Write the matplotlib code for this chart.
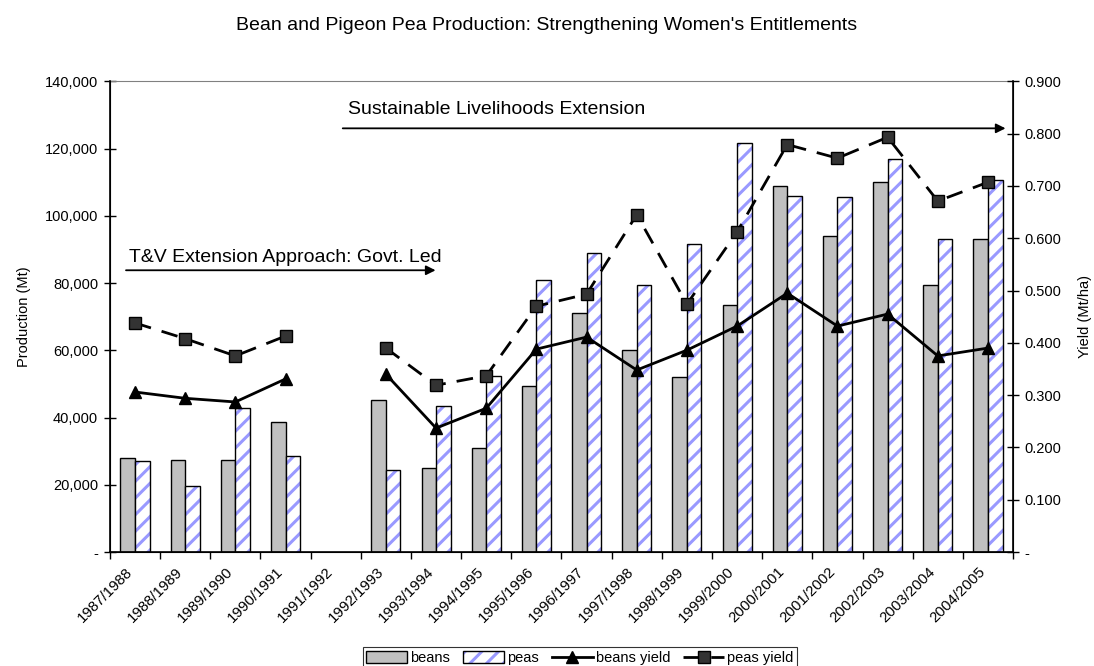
import numpy as np
import matplotlib
matplotlib.use('Agg')
import matplotlib.pyplot as plt
from matplotlib.patches import Patch
from matplotlib.lines import Line2D
from matplotlib.legend_handler import HandlerTuple
from matplotlib.ticker import FuncFormatter, MultipleLocator
from matplotlib.transforms import ScaledTranslation

plt.rcParams['font.family'] = ['Liberation Sans', 'DejaVu Sans']
plt.rcParams['hatch.linewidth'] = 2.2

seasons = ['1987/1988', '1988/1989', '1989/1990', '1990/1991', '1991/1992',
           '1992/1993', '1993/1994', '1994/1995', '1995/1996', '1996/1997',
           '1997/1998', '1998/1999', '1999/2000', '2000/2001', '2001/2002',
           '2002/2003', '2003/2004', '2004/2005']
beans = [28000, 27400, 27500, 38700, np.nan, 45200, 25000, 31000, 49500, 71000,
         60000, 52000, 73500, 109000, 94000, 110000, 79500, 93000]
peas = [27100, 19600, 42800, 28700, np.nan, 24300, 43500, 52500, 81000, 89000,
        79500, 91500, 121500, 106000, 105500, 117000, 93000, 110500]
beans_yield = [0.306, 0.294, 0.287, 0.331, np.nan, 0.340, 0.237, 0.275, 0.388, 0.411,
               0.348, 0.386, 0.432, 0.495, 0.432, 0.455, 0.375, 0.390]
peas_yield = [0.438, 0.408, 0.375, 0.413, np.nan, 0.390, 0.319, 0.337, 0.470, 0.493,
              0.645, 0.474, 0.612, 0.779, 0.753, 0.793, 0.671, 0.707]

tv_label = 'T&V Extension Approach: Govt. Led'
tv_span = (-0.18, 5.99)
tv_y = 83800
sl_label = 'Sustainable Livelihoods Extension'
sl_span = (4.14, 17.35)
sl_y = 126000

x = np.arange(len(seasons))
w = 0.29
blue = '#9999FF'
dash = (6, 4)

fig = plt.figure(figsize=(10.94, 6.66), dpi=100)
ax = fig.add_axes([0.1005, 0.171, 0.8255, 0.707])

ax.bar(x - w/2, beans, w, color='#C0C0C0', edgecolor='black', linewidth=1.0, zorder=2)
ax.bar(x + w/2, peas, w, color='white', edgecolor=blue, hatch='//', linewidth=0, zorder=2)
ax.bar(x + w/2, peas, w, fill=False, edgecolor='black', linewidth=1.0, zorder=3)

ax.set_xlim(-0.5, len(seasons) - 0.5)
ax.set_ylim(0, 140000)
ax.yaxis.set_major_locator(MultipleLocator(20000))
ax.yaxis.set_major_formatter(FuncFormatter(lambda v, p: '-' if v == 0 else f'{v:,.0f}'))
ax.set_ylabel('Production (Mt)', fontsize=10.5, labelpad=10)

ax.set_xticks(np.arange(len(seasons) + 1) - 0.5)
ax.set_xticklabels([])
ax.set_xticks(x, minor=True)
ax.set_xticklabels(seasons, minor=True, rotation=45, ha='right', va='top',
                   rotation_mode='anchor', fontsize=10.8)
ax.tick_params(axis='x', which='major', direction='out', length=5, width=1)
ax.tick_params(axis='x', which='minor', length=0, pad=9)
ax.tick_params(axis='y', direction='inout', length=9, width=1, labelsize=10.5, pad=4)
offset = ScaledTranslation(-7/72, 0, fig.dpi_scale_trans)
for lab in ax.get_xticklabels(minor=True):
    lab.set_transform(lab.get_transform() + offset)

for s in ['left', 'bottom']:
    ax.spines[s].set_linewidth(1.2)
ax.spines['top'].set_color('#808080')
ax.spines['top'].set_linewidth(0.8)

ax2 = ax.twinx()
ax2.plot(x, beans_yield, color='black', lw=2, marker='^', markersize=9,
         markerfacecolor='black', markeredgecolor='black')
ax2.plot(x, peas_yield, color='black', lw=2, dashes=dash, marker='s', markersize=8,
         markerfacecolor='#333333', markeredgecolor='black')
ax2.set_ylim(0, 0.9)
ax2.yaxis.set_major_locator(MultipleLocator(0.1))
ax2.yaxis.set_major_formatter(FuncFormatter(lambda v, p: '-' if abs(v) < 1e-9 else f'{v:.3f}'))
ax2.tick_params(axis='y', direction='inout', length=9, width=1, labelsize=10.5, pad=4)
ax2.set_ylabel('Yield (Mt/ha)', fontsize=10.5, labelpad=12)
ax2.spines['right'].set_linewidth(1.2)
ax2.spines['top'].set_visible(False)

ax.annotate('', xy=(tv_span[1], tv_y), xytext=(tv_span[0], tv_y),
            arrowprops=dict(arrowstyle='-|>', color='black', lw=1.3, mutation_scale=14,
                            shrinkA=0, shrinkB=0), zorder=5)
ax.text(tv_span[0] + 0.05, tv_y + 1300, tv_label, fontsize=14, va='bottom', ha='left')
ax.annotate('', xy=(sl_span[1], sl_y), xytext=(sl_span[0], sl_y),
            arrowprops=dict(arrowstyle='-|>', color='black', lw=1.3, mutation_scale=14,
                            shrinkA=0, shrinkB=0), zorder=5)
ax.text(sl_span[0] + 0.1, sl_y + 3000, sl_label, fontsize=14, va='bottom', ha='left')

fig.text(0.5, 0.962, "Bean and Pigeon Pea Production: Strengthening Women's Entitlements",
         ha='center', va='center', fontsize=14)

h_beans = Patch(facecolor='#C0C0C0', edgecolor='black', linewidth=1.0)
h_peas = (Patch(facecolor='white', edgecolor=blue, hatch='//', linewidth=0),
          Patch(fill=False, edgecolor='black', linewidth=1.0))
h_by = Line2D([], [], color='black', lw=2, marker='^', markersize=9)
h_py = Line2D([], [], color='black', lw=2, dashes=dash, marker='s', markersize=8,
              markerfacecolor='#333333', markeredgecolor='black')
leg = fig.legend([h_beans, h_peas, h_by, h_py], ['beans', 'peas', 'beans yield', 'peas yield'],
                 handler_map={tuple: HandlerTuple(ndivide=1, pad=0)},
                 loc='center', bbox_to_anchor=(0.53, 0.012), ncol=4, fontsize=10.5,
                 frameon=True, fancybox=False, edgecolor='black', handlelength=2.8,
                 handleheight=0.8, handletextpad=0.2, columnspacing=0.9,
                 borderpad=0.25)
leg.get_frame().set_linewidth(0.8)

fig.savefig('out.png', dpi=100)
